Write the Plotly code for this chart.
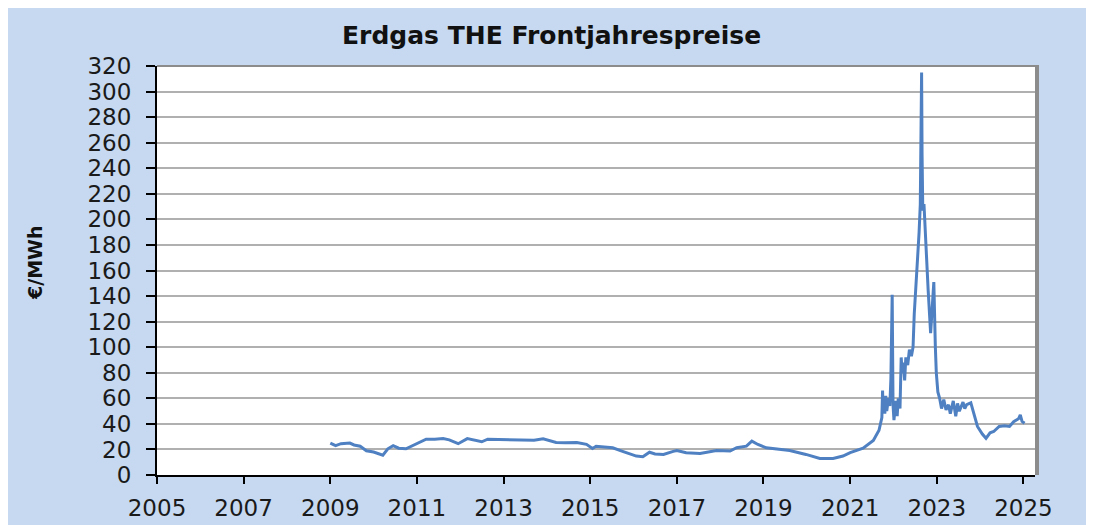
import plotly.graph_objects as go

# ---- data ----
dates = [
    "2009-01-01", "2009-02-15", "2009-04-01", "2009-06-15", "2009-07-20", "2009-09-10", "2009-11-01",
    "2010-01-01", "2010-03-20", "2010-05-01", "2010-06-15", "2010-08-01", "2010-10-01", "2010-12-15",
    "2011-03-20", "2011-06-01", "2011-08-10", "2011-10-01", "2011-12-15",
    "2012-03-01", "2012-05-15", "2012-07-01", "2012-08-20", "2012-12-01",
    "2013-03-20", "2013-07-01", "2013-09-15", "2013-11-30",
    "2014-03-20", "2014-06-01", "2014-09-10", "2014-12-01",
    "2015-01-20", "2015-02-20", "2015-05-01", "2015-07-10", "2015-10-01", "2015-12-15",
    "2016-01-25", "2016-03-20", "2016-05-15", "2016-07-01", "2016-09-10", "2016-12-01",
    "2017-01-01", "2017-03-20", "2017-07-15", "2017-12-01",
    "2018-03-25", "2018-05-20", "2018-08-10", "2018-09-25", "2018-11-15",
    "2019-01-25", "2019-04-20", "2019-08-10", "2019-12-25",
    "2020-04-20", "2020-08-10", "2020-11-01",
    "2021-01-01", "2021-04-20", "2021-07-15", "2021-09-01", "2021-09-25", "2021-10-01",
    "2021-10-05", "2021-10-10", "2021-10-20", "2021-10-28", "2021-11-05", "2021-11-20",
    "2021-12-01", "2021-12-10", "2021-12-21", "2021-12-28",
    "2022-01-05", "2022-01-20", "2022-02-01", "2022-02-10", "2022-02-25", "2022-03-07",
    "2022-03-15", "2022-03-25", "2022-04-05", "2022-04-15", "2022-05-01", "2022-05-15",
    "2022-06-01", "2022-06-15", "2022-06-25",
    "2022-07-10", "2022-07-20", "2022-08-05", "2022-08-15", "2022-08-26", "2022-08-30",
    "2022-09-05", "2022-09-15", "2022-09-25", "2022-10-10", "2022-10-20", "2022-11-10",
    "2022-11-25", "2022-12-07", "2022-12-20", "2022-12-28",
    "2023-01-10", "2023-01-25", "2023-02-10", "2023-03-01", "2023-03-20", "2023-04-10",
    "2023-04-25", "2023-05-20", "2023-06-10", "2023-06-25", "2023-07-10", "2023-08-10",
    "2023-08-25", "2023-09-10", "2023-10-15", "2023-11-15", "2023-12-10",
    "2024-01-20", "2024-02-20", "2024-03-25", "2024-04-25", "2024-06-10", "2024-07-25",
    "2024-09-05", "2024-10-10", "2024-11-20", "2024-12-05", "2024-12-20", "2025-01-10",
]
prices = [
    25, 23, 24.5, 25, 23.5, 22.5, 19,
    18, 15.5, 20.5, 23, 21, 20.5, 24,
    28, 28, 28.5, 27.5, 24.5,
    28.5, 27, 26, 28, 27.8,
    27.2, 27, 27.2, 28.3,
    25.5, 25.3, 25.5, 24,
    20.8, 22.5, 22, 21.3, 18.5, 16,
    14.8, 14.3, 17.8, 16.5, 16.1, 18.5,
    19.2, 17.4, 16.9, 19.2,
    18.7, 21.3, 22.6, 26.5, 23.9,
    21.3, 20.5, 19.2, 16.1,
    13, 13, 14.8,
    17.5, 21, 27, 35, 45, 66,
    50, 56, 48, 62, 50, 60,
    54, 75, 141, 55,
    43, 58, 46, 60, 52, 92,
    80, 88, 74, 92, 86, 98,
    93, 100, 126,
    147, 163, 190, 212, 315, 250,
    207, 212, 189, 160, 145, 111,
    135, 151, 100, 80,
    65, 60, 52, 59, 51, 55,
    48, 58, 46, 56, 50, 57,
    52, 55, 56.5, 45, 38,
    32, 28.7, 33, 34, 38, 38.5,
    38, 41.7, 44, 47, 42, 40.5,
]
tick_years = ["2005", "2007", "2009", "2011", "2013", "2015", "2017", "2019", "2021", "2023", "2025"]
tick_dates = [y + "-01-01" for y in tick_years]

title_text = "Erdgas THE Frontjahrespreise"
y_title = "€/MWh"

# ---- figure ----
FONT = "DejaVu Sans, Liberation Sans, Arial, sans-serif"
OFF = 8  # page body margin in the browser
W, H = 1094, 525
# reference pixel geometry of the plot area
RL, RR, RT, RB = 157, 1035, 66, 475
L, T = RL - OFF, RT - OFF
R = W - (RR - OFF)
B = H - (RB - OFF)
pw, ph = W - L - R, H - T - B

def px_x(px):  # reference pixel -> paper
    return (px - OFF - L) / pw

def px_y(py):
    return (H - B - (py - OFF)) / ph

fig = go.Figure()
fig.add_trace(go.Scatter(
    x=dates, y=prices, mode="lines",
    line=dict(color="#4f81c2", width=3),
    hoverinfo="skip", showlegend=False,
))

shapes = [
    # white outside the outer frame
    dict(type="rect", xref="paper", yref="paper", x0=px_x(-20), x1=px_x(7), y0=px_y(H + 20), y1=px_y(-20),
         fillcolor="white", line=dict(width=0), layer="below"),
    dict(type="rect", xref="paper", yref="paper", x0=px_x(-20), x1=px_x(W + 20), y0=px_y(4), y1=px_y(-20),
         fillcolor="white", line=dict(width=0), layer="below"),
    # outer frame border (left and top)
    dict(type="line", xref="paper", yref="paper", x0=px_x(7), x1=px_x(7), y0=px_y(H + 20), y1=px_y(4),
         line=dict(color="#404040", width=2)),
    dict(type="line", xref="paper", yref="paper", x0=px_x(7), x1=px_x(W + 20), y0=px_y(4), y1=px_y(4),
         line=dict(color="#404040", width=2)),
    # plot area top border and right shadow
    dict(type="line", xref="paper", yref="paper", x0=0, x1=1, y0=1, y1=1,
         line=dict(color="#8c8c8c", width=2)),
    dict(type="line", xref="paper", yref="paper", x0=px_x(RR + 2), x1=px_x(RR + 2), y0=0, y1=px_y(RT - 1),
         line=dict(color="#8c8c8c", width=4)),
]

annotations = [
    dict(text="<b>" + title_text + "</b>", xref="paper", yref="paper",
         x=px_x(551), y=px_y(36), xanchor="center", yanchor="middle", showarrow=False,
         font=dict(family=FONT, size=25, color="#111111")),
    dict(text="<b>" + y_title + "</b>", xref="paper", yref="paper",
         x=px_x(35), y=px_y(263), xanchor="center", yanchor="middle", showarrow=False,
         textangle=-90, font=dict(family=FONT, size=19, color="#111111")),
]

fig.update_layout(
    width=W, height=H,
    margin=dict(l=L, r=R, t=T, b=B),
    paper_bgcolor="#c6d9f0",
    plot_bgcolor="white",
    font=dict(family=FONT, color="#1a1a1a"),
    shapes=shapes,
    annotations=annotations,
    showlegend=False,
)
fig.update_xaxes(
    type="date",
    range=["2005-01-01", "2025-04-08"],
    tickvals=tick_dates, ticktext=tick_years,
    ticks="outside", ticklen=7, tickwidth=1.5, tickcolor="#000000",
    showline=True, linecolor="#000000", linewidth=2,
    showgrid=False, zeroline=False,
    tickfont=dict(size=23, color="#1a1a1a"),
    ticklabelstandoff=4,
)
fig.update_yaxes(
    range=[0, 320], dtick=20, tick0=0,
    ticks="outside", ticklen=9, tickwidth=1.5, tickcolor="#000000",
    showline=True, linecolor="#000000", linewidth=2,
    showgrid=True, gridcolor="#b0b0b0", gridwidth=1.5,
    zeroline=False,
    tickfont=dict(size=23, color="#1a1a1a"),
    ticklabelstandoff=10,
)

fig.write_html("out.html")
